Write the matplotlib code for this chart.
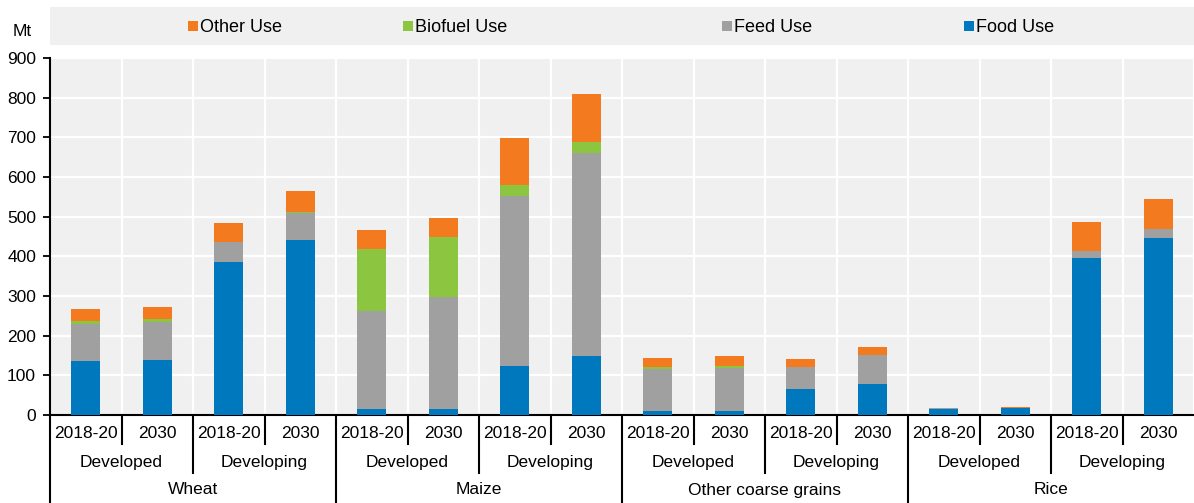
import matplotlib
matplotlib.use('Agg')
import matplotlib.pyplot as plt
from matplotlib.patches import Rectangle
import matplotlib.transforms as mtransforms

plt.rcParams['font.family'] = ['Liberation Sans', 'DejaVu Sans']

crops = ['Wheat', 'Maize', 'Other coarse grains', 'Rice']
groups = ['Developed', 'Developing']
years = ['2018-20', '2030']

# Mt, order: crop -> group -> year
food = [135, 138, 385, 440, 15, 16, 124, 150, 11, 11, 66, 79, 16, 18, 397, 447]
feed = [95, 97, 50, 68, 248, 281, 427, 510, 104, 108, 55, 72, 1.5, 0.5, 17, 21]
biofuel = [7, 8, 2, 4, 156, 152, 29, 28, 5, 5, 0, 0, 0, 0, 0, 0]
other = [29, 29, 46, 53, 47, 48, 119, 120, 24, 24, 20, 21, 0.5, 1, 72, 77]

series = [('Food Use', food, '#0078BE'),
          ('Feed Use', feed, '#A0A0A0'),
          ('Biofuel Use', biofuel, '#8CC640'),
          ('Other Use', other, '#F47A20')]

W, H = 1194, 503
fig = plt.figure(figsize=(W / 100, H / 100), dpi=100)
ax = fig.add_axes([50 / W, (H - 415) / H, (W - 50) / W, 357 / H])
ax.set_facecolor('#F0F0F0')

n = len(food)
x = [i + 0.5 for i in range(n)]
bottom = [0] * n
for name, vals, col in series:
    ax.bar(x, vals, width=0.4, bottom=bottom, color=col, linewidth=0, zorder=3)
    bottom = [b + v for b, v in zip(bottom, vals)]

ax.set_xlim(0, n)
ax.set_ylim(0, 900)
ax.set_yticks(range(0, 901, 100))
ax.set_xticks(range(0, n + 1))
ax.set_xticklabels([])
ax.grid(True, color='white', linewidth=1.6, zorder=1)
ax.tick_params(axis='y', length=5, width=1.3, labelsize=12.5, pad=5)
ax.tick_params(axis='x', length=0)
for s in ['top', 'right']:
    ax.spines[s].set_visible(False)
ax.spines['left'].set_linewidth(1.5)
ax.spines['bottom'].set_linewidth(1.5)

# multi-level category axis
tr = mtransforms.blended_transform_factory(ax.transData, ax.transAxes)
def ya(px):
    return (415 - px) / 357

for i in range(n):
    if i % 4 == 0:
        y_end = ya(503)
    elif i % 2 == 0:
        y_end = ya(473)
    else:
        y_end = ya(444)
    ax.plot([i, i], [0, y_end], color='black', lw=1.5, transform=tr, clip_on=False)

for i in range(n):
    ax.text(i + 0.5, ya(433), years[i % 2], transform=tr, ha='center', va='center', fontsize=12.5)
for j in range(n // 2):
    ax.text(2 * j + 1, ya(462), groups[j % 2], transform=tr, ha='center', va='center', fontsize=12.5)
for k in range(n // 4):
    ax.text(4 * k + 2, ya(490), crops[k], transform=tr, ha='center', va='center', fontsize=12.5)

fig.text(22 / W, 1 - 31 / H, 'Mt', ha='center', va='center', fontsize=12.5)

# legend strip
fig.patches.append(Rectangle((50 / W, 1 - 45 / H), (W - 50) / W, 38 / H,
                             transform=fig.transFigure, facecolor='#F0F0F0', edgecolor='none'))
leg = [('Other Use', '#F47A20', 188), ('Biofuel Use', '#8CC640', 403),
       ('Feed Use', '#A0A0A0', 722), ('Food Use', '#0078BE', 964)]
for name, col, px in leg:
    fig.patches.append(Rectangle((px / W, 1 - 31 / H), 10 / W, 10 / H,
                                 transform=fig.transFigure, facecolor=col, edgecolor='none'))
    fig.text((px + 12) / W, 1 - 27 / H, name, ha='left', va='center', fontsize=13)

fig.savefig('out.png', dpi=100)
